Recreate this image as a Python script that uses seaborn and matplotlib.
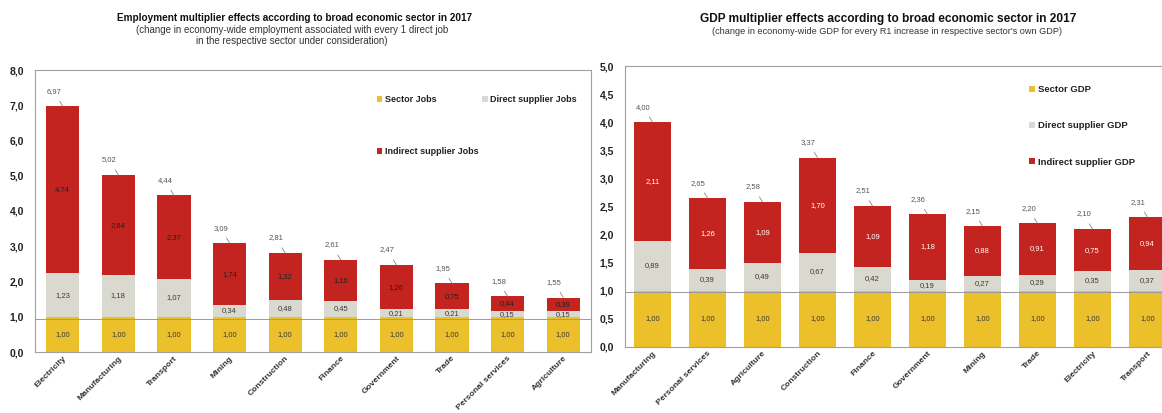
import numpy as np
import pandas as pd
import seaborn as sns
import matplotlib.pyplot as plt
from matplotlib.patches import Patch
from matplotlib.ticker import FuncFormatter, MultipleLocator

# employment multipliers
jobs_sectors = ['Electricity', 'Manufacturing', 'Transport', 'Mining', 'Construction',
                'Finance', 'Government', 'Trade', 'Personal services', 'Agriculture']
jobs_sector = [1.00, 1.00, 1.00, 1.00, 1.00, 1.00, 1.00, 1.00, 1.00, 1.00]
jobs_direct = [1.23, 1.18, 1.07, 0.34, 0.48, 0.45, 0.21, 0.21, 0.15, 0.15]
jobs_indirect = [4.74, 2.84, 2.37, 1.74, 1.32, 1.16, 1.26, 0.75, 0.44, 0.39]
jobs_total = [6.97, 5.02, 4.44, 3.09, 2.81, 2.61, 2.47, 1.95, 1.58, 1.55]

# GDP multipliers
gdp_sectors = ['Manufacturing', 'Personal services', 'Agriculture', 'Construction', 'Finance',
               'Government', 'Mining', 'Trade', 'Electricity', 'Transport']
gdp_sector = [1.00, 1.00, 1.00, 1.00, 1.00, 1.00, 1.00, 1.00, 1.00, 1.00]
gdp_direct = [0.89, 0.39, 0.49, 0.67, 0.42, 0.19, 0.27, 0.29, 0.35, 0.37]
gdp_indirect = [2.11, 1.26, 1.09, 1.70, 1.09, 1.18, 0.88, 0.91, 0.75, 0.94]
gdp_total = [4.00, 2.65, 2.58, 3.37, 2.51, 2.36, 2.15, 2.20, 2.10, 2.31]

YELLOW = '#ecc02a'
GREY = '#d9d9cf'
RED = '#c3241f'
TXT = '#3a3a3a'

plt.rcParams['font.family'] = ['Liberation Sans', 'DejaVu Sans']


def comma(v):
    return f'{v:.2f}'.replace('.', ',')


def stacked(ax, cats, sector, direct, indirect, total, width, red_txt, hline):
    df = pd.DataFrame({'cat': cats, 'sector': sector, 'direct': direct, 'indirect': indirect})
    df['b_direct'] = df['sector']
    df['b_indirect'] = df['sector'] + df['direct']
    layers = [('sector', None, YELLOW, TXT), ('direct', 'b_direct', GREY, TXT),
              ('indirect', 'b_indirect', RED, red_txt)]
    for col, bcol, color, tcol in layers:
        kw = {} if bcol is None else {'bottom': df[bcol].values}
        sns.barplot(data=df, x='cat', y=col, order=cats, color=color, width=width,
                    saturation=1, ax=ax, **kw)
        cont = ax.containers[-1]
        ax.bar_label(cont, labels=[comma(v) for v in df[col]], label_type='center',
                     fontsize=5.5, color=tcol)
    # total label above each bar with a small leader line
    for p, t in zip(ax.containers[-1].patches, total):
        xc = p.get_x() + p.get_width() / 2
        ax.annotate(comma(t), xy=(xc, t), xytext=(-9, 15), textcoords='offset pixels',
                    ha='center', va='center', fontsize=5.5, color='#555555',
                    arrowprops=dict(arrowstyle='-', color='#888888', lw=0.6,
                                    shrinkA=3, shrinkB=0))
    ax.axhline(hline, color='#9a9a9a', lw=0.7, zorder=5)
    ax.set_xlim(-0.5, len(cats) - 0.5)
    ax.set_xlabel('')
    ax.set_ylabel('')
    ax.yaxis.set_major_formatter(FuncFormatter(lambda v, pos: f'{v:.1f}'.replace('.', ',')))
    ax.tick_params(axis='y', labelsize=7.5, length=0, pad=8, labelcolor='#222222')
    ax.tick_params(axis='x', labelsize=6.1, length=0, pad=2, labelcolor='#333333')
    plt.setp(ax.get_xticklabels(), rotation=45, ha='right', rotation_mode='anchor',
             fontweight='bold')
    for s in ax.spines.values():
        s.set_color('#a0a0a0')
        s.set_linewidth(0.8)


fig = plt.figure(figsize=(11.62, 4.13), dpi=100)
ax1 = fig.add_axes([35 / 1162, 61 / 413, 556 / 1162, 282 / 413])
ax2 = fig.add_axes([625 / 1162, 66 / 413, 550 / 1162, 281 / 413])

stacked(ax1, jobs_sectors, jobs_sector, jobs_direct, jobs_indirect, jobs_total, 0.6, '#222222', 0.93)
ax1.set_ylim(0, 8)
ax1.yaxis.set_major_locator(MultipleLocator(1))

stacked(ax2, gdp_sectors, gdp_sector, gdp_direct, gdp_indirect, gdp_total, 0.67, 'white', 0.97)
ax2.set_ylim(0, 5)
ax2.yaxis.set_major_locator(MultipleLocator(0.5))

for ax in (ax1, ax2):
    for lab in ax.get_yticklabels():
        lab.set_fontweight('bold')

h = lambda c: Patch(facecolor=c, edgecolor='none')
leg1 = ax1.legend([h(YELLOW), h(RED), h(GREY)],
                  ['Sector Jobs', 'Indirect supplier Jobs', 'Direct supplier Jobs'],
                  ncol=2, loc='upper left', bbox_to_anchor=(377 / 1162, 1 - 95 / 413),
                  bbox_transform=fig.transFigure, frameon=False, fontsize=6.5,
                  handlelength=0.6, handleheight=0.6, handletextpad=0.3,
                  labelspacing=4.8, columnspacing=0.4, borderpad=0, borderaxespad=0)
for t in leg1.get_texts():
    t.set_fontweight('bold')
    t.set_color('#222222')

leg2 = ax2.legend([h(YELLOW), h(GREY), h(RED)],
                  ['Sector GDP', 'Direct supplier GDP', 'Indirect supplier GDP'],
                  loc='upper left', bbox_to_anchor=(1029 / 1162, 1 - 85 / 413),
                  bbox_transform=fig.transFigure, frameon=False, fontsize=6.8,
                  handlelength=0.6, handleheight=0.6, handletextpad=0.3,
                  labelspacing=2.9, borderpad=0, borderaxespad=0)
for t in leg2.get_texts():
    t.set_fontweight('bold')
    t.set_color('#222222')

fig.text(295 / 1162, 1 - 18 / 413, 'Employment multiplier effects according to broad economic sector in 2017',
         ha='center', va='center', fontsize=7.2, fontweight='bold', color='#111111')
fig.text(292 / 1162, 1 - 30 / 413, '(change in economy-wide employment associated with every 1 direct job',
         ha='center', va='center', fontsize=7, color='#333333')
fig.text(292 / 1162, 1 - 41 / 413, 'in the respective sector under consideration)',
         ha='center', va='center', fontsize=7, color='#333333')
fig.text(888 / 1162, 1 - 19 / 413, 'GDP multiplier effects according to broad economic sector in 2017',
         ha='center', va='center', fontsize=8.6, fontweight='bold', color='#111111')
fig.text(887 / 1162, 1 - 31 / 413, "(change in economy-wide GDP for every R1 increase in respective sector's own GDP)",
         ha='center', va='center', fontsize=6.6, color='#333333')

fig.savefig('out.png', dpi=100)
